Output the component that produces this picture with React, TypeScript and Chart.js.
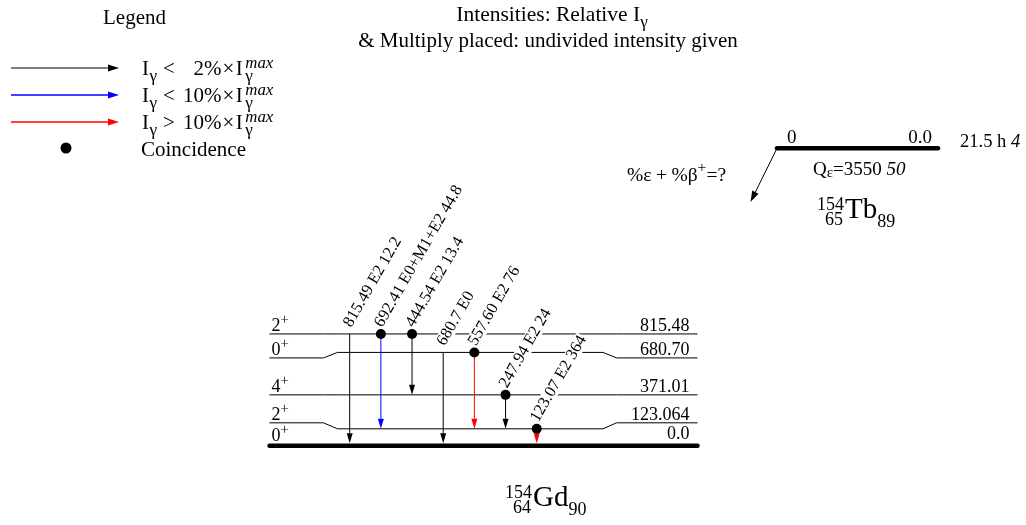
import { useEffect, useRef } from "react";
import { Chart, registerables } from "chart.js";
Chart.register(...registerables);

// ---------- data ----------
const levelEnergies = [0, 123.064, 371.01, 680.7, 815.48];
const levelLabels = ["0.0", "123.064", "371.01", "680.70", "815.48"];
const levelSpins = ["0", "2", "4", "0", "2"];
const levelParities = ["+", "+", "+", "+", "+"];

const gammaEnergies = ["815.49", "692.41", "444.54", "680.7", "557.60", "247.94", "123.07"];
const gammaMults = ["E2", "E0+M1+E2", "E2", "E0", "E2", "E2", "E2"];
const gammaIntensities = ["12.2", "44.8", "13.4", "", "76", "24", "364"];
const gammaFrom = [815.48, 815.48, 815.48, 680.7, 680.7, 371.01, 123.064];
const gammaTo = [0, 123.064, 371.01, 0, 123.064, 123.064, 0];
const gammaClass = [0, 1, 0, 0, 2, 0, 2]; // 0: <2%, 1: <10%, 2: >10%
const gammaCoinc = [false, true, true, false, true, true, true];

const parentLevelLabel = "0.0";
const parentSpin = "0";
const parentHalfLife = "21.5 h";
const parentHalfLifeUnc = "4";
const qValue = "3550";
const qUnc = "50";
const parentNuclide = { A: "154", Z: "65", sym: "Tb", N: "89" };
const daughterNuclide = { A: "154", Z: "64", sym: "Gd", N: "90" };

const titleLines = ["Intensities: Relative I", "& Multiply placed: undivided intensity given"];
const legendTitle = "Legend";
const legendRelations = ["<", "<", ">"];
const legendPercents = ["2%", "10%", "10%"];
const legendCoinc = "Coincidence";

// ---------- styles / layout ----------
const FAMILY = '"Liberation Serif", "Times New Roman", serif';
const CLASS_COLORS = ["#000000", "#0000ff", "#ff0000"];
const LAY = {
  levelLeft: 269.5,
  levelRight: 697.5,
  kL1: 323.5,
  kL2: 337.5,
  kR1: 603,
  kR2: 616.5,
  gx0: 349.7,
  gdx: 31.17,
  labelAngle: (60 * Math.PI) / 180,
};
const levelEndShift = [0, -6, 0, 5.5, 0];

type Run = { t: string; v?: "sub" | "sup"; it?: boolean; stack?: boolean; dy?: number; sc?: number; gap?: number };

function runSize(size: number, r: Run) {
  return r.sc ? size * r.sc : r.v ? size * 0.72 : size;
}
function setFont(ctx: CanvasRenderingContext2D, size: number, r: Run) {
  ctx.font = `${r.it ? "italic " : ""}${runSize(size, r)}px ${FAMILY}`;
}
function measureRuns(ctx: CanvasRenderingContext2D, runs: Run[], size: number) {
  let w = 0;
  let last = 0;
  for (const r of runs) {
    setFont(ctx, size, r);
    const rw = ctx.measureText(r.t).width;
    if (r.stack) {
      w += Math.max(0, rw - last);
      last = Math.max(rw, last);
    } else {
      w += rw + (r.gap || 0);
      last = rw;
    }
  }
  return w;
}
function drawRuns(
  ctx: CanvasRenderingContext2D,
  x: number,
  y: number,
  runs: Run[],
  size: number,
  align: "left" | "center" | "right" = "left"
) {
  const total = measureRuns(ctx, runs, size);
  let cx = align === "center" ? x - total / 2 : align === "right" ? x - total : x;
  let prevX = cx;
  let last = 0;
  ctx.textAlign = "left";
  ctx.textBaseline = "alphabetic";
  for (const r of runs) {
    setFont(ctx, size, r);
    const rw = ctx.measureText(r.t).width;
    const dy = r.dy !== undefined ? r.dy * size : r.v === "sub" ? 0.28 * size : r.v === "sup" ? -0.4 * size : 0;
    if (!r.stack) cx += r.gap || 0;
    const dx = r.stack ? prevX : cx;
    ctx.fillText(r.t, dx, y + dy);
    if (r.stack) {
      cx = prevX + Math.max(last, rw);
      last = Math.max(last, rw);
    } else {
      prevX = cx;
      cx += rw;
      last = rw;
    }
  }
}

function arrow(
  ctx: CanvasRenderingContext2D,
  x1: number,
  y1: number,
  x2: number,
  y2: number,
  color: string,
  lw = 1,
  head = 10,
  half = 3
) {
  const ang = Math.atan2(y2 - y1, x2 - x1);
  const bx = x2 - head * Math.cos(ang);
  const by = y2 - head * Math.sin(ang);
  ctx.save();
  ctx.strokeStyle = color;
  ctx.fillStyle = color;
  ctx.lineWidth = lw;
  ctx.beginPath();
  ctx.moveTo(x1, y1);
  ctx.lineTo(bx, by);
  ctx.stroke();
  ctx.beginPath();
  ctx.moveTo(x2, y2);
  ctx.lineTo(bx + half * Math.sin(ang), by - half * Math.cos(ang));
  ctx.lineTo(bx - half * Math.sin(ang), by + half * Math.cos(ang));
  ctx.closePath();
  ctx.fill();
  ctx.restore();
}

function drawNuclide(
  ctx: CanvasRenderingContext2D,
  x: number,
  y: number,
  n: { A: string; Z: string; sym: string; N: string }
) {
  ctx.fillStyle = "#000";
  ctx.textBaseline = "alphabetic";
  ctx.font = `18px ${FAMILY}`;
  ctx.textAlign = "right";
  ctx.fillText(n.A, x - 1, y - 8);
  ctx.fillText(n.Z, x - 2, y + 7);
  ctx.textAlign = "left";
  ctx.font = `29px ${FAMILY}`;
  ctx.fillText(n.sym, x, y);
  const w = ctx.measureText(n.sym).width;
  ctx.font = `18px ${FAMILY}`;
  ctx.fillText(n.N, x + w, y + 9);
}

const gammaX = (i: number) => LAY.gx0 + i * LAY.gdx;

const diagramPlugin = {
  id: "levelScheme",
  beforeDatasetsDraw(chart: any) {
    const ctx: CanvasRenderingContext2D = chart.ctx;
    const xs = chart.scales.x;
    const ys = chart.scales.y;
    const X = (v: number) => xs.getPixelForValue(v);
    const Y = (e: number) => ys.getPixelForValue(e);
    ctx.save();

    // levels
    levelEnergies.forEach((e, i) => {
      const ym = Y(e);
      const ye = ym + levelEndShift[i];
      if (e === 0) {
        ctx.strokeStyle = "#000";
        ctx.lineWidth = 4.5;
        ctx.lineCap = "round";
        ctx.beginPath();
        ctx.moveTo(X(LAY.levelLeft), ym);
        ctx.lineTo(X(LAY.levelRight), ym);
        ctx.stroke();
        ctx.lineCap = "butt";
      } else {
        ctx.strokeStyle = "#000";
        ctx.lineWidth = 1;
        ctx.beginPath();
        ctx.moveTo(X(LAY.levelLeft), ye);
        ctx.lineTo(X(LAY.kL1), ye);
        ctx.lineTo(X(LAY.kL2), ym);
        ctx.lineTo(X(LAY.kR1), ym);
        ctx.lineTo(X(LAY.kR2), ye);
        ctx.lineTo(X(LAY.levelRight), ye);
        ctx.stroke();
      }
      const yl = e === 0 ? ym - 4.5 : ye - 2.5;
      ctx.fillStyle = "#000";
      drawRuns(
        ctx,
        X(LAY.levelLeft) + 2,
        yl,
        [{ t: levelSpins[i] }, { t: levelParities[i], v: "sup", dy: -0.42, sc: 0.82 }],
        18
      );
      ctx.font = `18px ${FAMILY}`;
      ctx.textAlign = "right";
      ctx.fillText(levelLabels[i], X(LAY.levelRight) - 8, e === 0 ? ym - 7 : ye - 2.5);
    });

    // gamma labels with white mask
    gammaEnergies.forEach((g, i) => {
      const x = X(gammaX(i));
      const y = Y(gammaFrom[i]);
      const text = [g, gammaMults[i], gammaIntensities[i]].filter((s) => s !== "").join(" ");
      ctx.save();
      ctx.translate(x + 1.5, y - 6);
      ctx.rotate(-LAY.labelAngle);
      ctx.font = `16.5px ${FAMILY}`;
      ctx.textAlign = "left";
      ctx.textBaseline = "alphabetic";
      const w = ctx.measureText(text).width;
      ctx.fillStyle = "#fff";
      ctx.fillRect(-1, -12, w + 2, 15);
      ctx.fillStyle = "#000";
      ctx.fillText(text, 0, 0);
      ctx.restore();
    });

    // gamma arrows
    gammaEnergies.forEach((_, i) => {
      const x = X(gammaX(i));
      const y1 = Y(gammaFrom[i]);
      const y2 = gammaTo[i] === 0 ? Y(0) - 2.3 : Y(gammaTo[i]);
      arrow(ctx, x, y1, x, y2, CLASS_COLORS[gammaClass[i]], 1, 10, 3);
    });

    ctx.restore();
  },
  afterDraw(chart: any) {
    const ctx: CanvasRenderingContext2D = chart.ctx;
    const xs = chart.scales.x;
    const X = (v: number) => xs.getPixelForValue(v);
    ctx.save();
    ctx.fillStyle = "#000";

    // titles
    drawRuns(ctx, X(552), 21, [{ t: titleLines[0] }, { t: "γ", v: "sub", sc: 0.8 }], 21.5, "center");
    drawRuns(ctx, X(548), 47, [{ t: titleLines[1] }], 21, "center");

    // legend
    ctx.font = `21px ${FAMILY}`;
    ctx.textAlign = "left";
    ctx.fillText(legendTitle, X(103), 24);
    const rowsY = [68, 95, 122];
    legendRelations.forEach((rel, i) => {
      const y = rowsY[i];
      arrow(ctx, X(11), y, X(119), y, CLASS_COLORS[i], i === 0 ? 1 : 1.6, 11, 3.5);
      ctx.fillStyle = "#000";
      const pct = legendPercents[i];
      drawRuns(
        ctx,
        X(142),
        y + 7,
        [
          { t: "I" },
          { t: "γ", v: "sub", sc: 0.82, gap: 0.5 },
          { t: rel, gap: 6 },
          { t: pct, gap: pct.length === 2 ? 18.5 : 8 },
          { t: "×", gap: 1 },
          { t: "I", gap: 1.5 },
          { t: "γ", v: "sub", sc: 0.82, gap: 2.5 },
          { t: "max", v: "sup", it: true, stack: true, dy: -0.34, sc: 0.8 },
        ],
        21
      );
    });
    ctx.beginPath();
    ctx.arc(X(66), 148, 5.5, 0, Math.PI * 2);
    ctx.fill();
    ctx.font = `21px ${FAMILY}`;
    ctx.fillText(legendCoinc, X(141), 156);

    // parent level
    ctx.strokeStyle = "#000";
    ctx.lineWidth = 4.5;
    ctx.lineCap = "round";
    ctx.beginPath();
    ctx.moveTo(X(777), 148.3);
    ctx.lineTo(X(938), 148.3);
    ctx.stroke();
    ctx.lineCap = "butt";
    ctx.font = `19px ${FAMILY}`;
    ctx.textAlign = "left";
    ctx.fillText(parentSpin, X(787), 143);
    ctx.textAlign = "right";
    ctx.fillText(parentLevelLabel, X(932), 143);
    drawRuns(ctx, X(960), 147, [{ t: parentHalfLife + " " }, { t: parentHalfLifeUnc, it: true }], 18.5);
    drawRuns(
      ctx,
      X(813),
      175,
      [{ t: "Q" }, { t: "ε", v: "sub", dy: 0.12, sc: 0.8 }, { t: "=" + qValue + " " }, { t: qUnc, it: true }],
      19
    );
    drawRuns(
      ctx,
      X(627),
      181,
      [
        { t: "%ε" },
        { t: "+", gap: 4.5 },
        { t: "%β", gap: 4.5 },
        { t: "+", v: "sup", dy: -0.45, sc: 0.8 },
        { t: "=?" },
      ],
      19.5
    );
    arrow(ctx, X(777), 148.3, X(750.5), 202, "#000", 1, 11, 3.5);

    drawNuclide(ctx, X(845), 218, parentNuclide);
    drawNuclide(ctx, X(533), 506, daughterNuclide);

    ctx.restore();
  },
};

export default function App() {
  const ref = useRef<HTMLCanvasElement | null>(null);
  useEffect(() => {
    if (!ref.current) return;
    const coincPoints = gammaEnergies
      .map((_, i) => ({ x: gammaX(i), y: gammaFrom[i], c: gammaCoinc[i] }))
      .filter((p) => p.c)
      .map((p) => ({ x: p.x, y: p.y }));
    const chart = new Chart(ref.current, {
      type: "scatter",
      data: {
        datasets: [
          {
            data: coincPoints,
            pointRadius: 5,
            pointBackgroundColor: "#000",
            pointBorderColor: "#000",
            pointBorderWidth: 0,
            clip: false,
          } as any,
        ],
      },
      options: {
        animation: false,
        responsive: false,
        events: [],
        layout: { padding: 0, autoPadding: false } as any,
        plugins: { legend: { display: false }, tooltip: { enabled: false } },
        scales: {
          x: { type: "linear", display: false, min: 0, max: 1026 },
          y: { type: "linear", display: false, min: -579, max: 3253 },
        },
      },
      plugins: [diagramPlugin],
    });
    return () => chart.destroy();
  }, []);
  return (
    <div style={{ position: "absolute", left: 0, top: 0, width: 1026, height: 525, background: "#fff" }}>
      <canvas ref={ref} width={1026} height={525} style={{ display: "block" }} />
    </div>
  );
}
